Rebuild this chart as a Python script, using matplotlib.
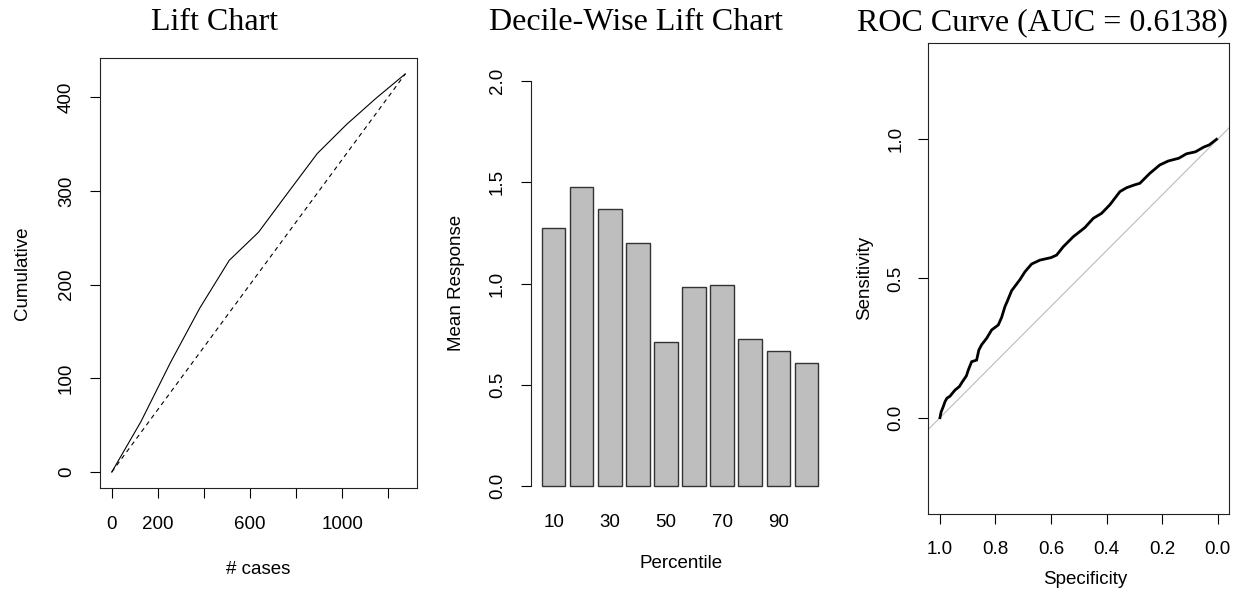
import matplotlib
matplotlib.use("Agg")
import matplotlib.pyplot as plt
import numpy as np

# ---------------- data ----------------
# Lift chart (cumulative actual responses at decile boundaries)
lift_cases = [0, 127, 255, 382, 510, 637, 764, 892, 1019, 1147, 1274]
lift_cum = [0, 54, 117, 175, 226, 256, 298, 340, 371, 399, 425]
baseline_cases = [0, 1274]
baseline_cum = [0, 425]
lift_xticks = [0, 200, 400, 600, 800, 1000, 1200]
lift_xticklabels = ["0", "200", "", "600", "", "1000", ""]
lift_yticks = [0, 100, 200, 300, 400]

# Decile-wise lift chart
percentiles = [10, 20, 30, 40, 50, 60, 70, 80, 90, 100]
mean_response = [1.276, 1.479, 1.370, 1.198, 0.709, 0.985, 0.995, 0.724, 0.665, 0.609]
decile_yticks = [0.0, 0.5, 1.0, 1.5, 2.0]

# ROC curve
roc_spec = [1.0, 0.996, 0.988, 0.982, 0.975, 0.964, 0.946, 0.930, 0.920, 0.905,
            0.898, 0.886, 0.868, 0.860, 0.850, 0.832, 0.814, 0.790, 0.778, 0.766,
            0.758, 0.742, 0.712, 0.694, 0.670, 0.640, 0.600, 0.580, 0.556, 0.520,
            0.478, 0.448, 0.418, 0.388, 0.352, 0.328, 0.300, 0.280, 0.244, 0.208,
            0.178, 0.140, 0.112, 0.080, 0.050, 0.030, 0.004]
roc_sens = [0.000, 0.020, 0.040, 0.057, 0.070, 0.077, 0.099, 0.112, 0.128, 0.150,
            0.171, 0.201, 0.207, 0.243, 0.262, 0.285, 0.315, 0.333, 0.360, 0.399,
            0.417, 0.456, 0.496, 0.524, 0.552, 0.566, 0.575, 0.584, 0.614, 0.650,
            0.683, 0.716, 0.734, 0.765, 0.812, 0.826, 0.836, 0.842, 0.878, 0.908,
            0.922, 0.932, 0.948, 0.955, 0.972, 0.980, 1.000]
roc_ticks_x = [1.0, 0.8, 0.6, 0.4, 0.2, 0.0]
roc_ticks_y = [0.0, 0.5, 1.0]
auc = 0.6138

# ---------------- layout ----------------
W, H = 1241, 594
DPI = 100
fig = plt.figure(figsize=(W / DPI, H / DPI), dpi=DPI)

SANS = "Liberation Sans"
SERIF = "Liberation Serif"
TICK_FS = 13.5
LABEL_FS = 13.5
TITLE_FS = 23


def ax_px(left, top, right, bottom):
    return fig.add_axes([left / W, 1 - bottom / H, (right - left) / W, (bottom - top) / H])


def fx(x):
    return x / W


def fy(y):
    return 1 - y / H


def style(ax, xpad, ypad):
    ax.tick_params(direction="out", length=7.5, width=0.8, labelsize=TICK_FS, colors="black")
    ax.tick_params(axis="x", pad=xpad)
    ax.tick_params(axis="y", pad=ypad)
    for lbl in ax.get_xticklabels() + ax.get_yticklabels():
        lbl.set_fontfamily(SANS)
    for lbl in ax.get_yticklabels():
        lbl.set_rotation(90)
        lbl.set_va("center")
    for s in ax.spines.values():
        s.set_linewidth(0.8)
        s.set_color("#222222")


# ---- Lift chart ----
ax1 = ax_px(100, 58, 417, 488)
ax1.plot(lift_cases, lift_cum, color="black", lw=0.8)
ax1.plot(baseline_cases, baseline_cum, color="black", lw=0.8, linestyle=(0, (4, 3.5)))
ax1.set_xlim(-51, 1325)
ax1.set_ylim(-17, 442)
ax1.set_xticks(lift_xticks)
ax1.set_xticklabels(lift_xticklabels)
ax1.set_yticks(lift_yticks)
ax1.set_yticklabels([str(v) for v in lift_yticks])
style(ax1, 13, 10.5)
fig.text(fx(215), fy(23), "Lift Chart", ha="center", va="center", fontsize=TITLE_FS, family=SERIF)
fig.text(fx(258), fy(570), "# cases", ha="center", va="center", fontsize=LABEL_FS, family=SANS)
fig.text(fx(22), fy(273), "Cumulative", ha="center", va="center", rotation=90, fontsize=LABEL_FS, family=SANS)

# ---- Decile-wise lift chart ----
ax2 = ax_px(531, 58, 829, 488)
xpos = 0.7 + 1.2 * np.arange(len(percentiles))
ax2.bar(xpos, mean_response, width=1.0, color="#BEBEBE", edgecolor="#333333", linewidth=1.0)
ax2.set_xlim(-0.272, 12.472)
ax2.set_ylim(-0.01, 2.114)
ax2.set_xticks(xpos)
ax2.set_xticklabels([str(p) if i % 2 == 0 else "" for i, p in enumerate(percentiles)])
ax2.set_yticks(decile_yticks)
ax2.set_yticklabels([f"{v:.1f}" for v in decile_yticks])
for s in ["top", "right", "bottom"]:
    ax2.spines[s].set_visible(False)
style(ax2, 10.5, 10.5)
ax2.spines["left"].set_bounds(0, 2.0)
ax2.tick_params(axis="x", length=0, pad=19)
fig.text(fx(636), fy(23), "Decile-Wise Lift Chart", ha="center", va="center", fontsize=TITLE_FS, family=SERIF)
fig.text(fx(681), fy(563), "Percentile", ha="center", va="center", fontsize=LABEL_FS, family=SANS)
fig.text(fx(457), fy(283), "Mean Response", ha="center", va="center", rotation=90, fontsize=LABEL_FS, family=SANS)

# ---- ROC curve ----
ax3 = ax_px(928.3, 42.7, 1229.3, 514)
ax3.plot([1.1, -0.1], [-0.1, 1.1], color="#BBBBBB", lw=0.8)
ax3.plot(roc_spec, roc_sens, color="black", lw=2.0, solid_joinstyle="miter")
ax3.set_xlim(1.042, -0.042)
ax3.set_ylim(-0.346, 1.347)
ax3.set_xticks(roc_ticks_x)
ax3.set_xticklabels([f"{v:.1f}" for v in roc_ticks_x])
ax3.set_yticks(roc_ticks_y)
ax3.set_yticklabels([f"{v:.1f}" for v in roc_ticks_y])
style(ax3, 12, 9.5)
fig.text(fx(1042), fy(23), f"ROC Curve (AUC = {auc:.4f})", ha="center", va="center", fontsize=TITLE_FS, family=SERIF)
fig.text(fx(1085), fy(580), "Specificity", ha="center", va="center", fontsize=LABEL_FS, family=SANS)
fig.text(fx(865), fy(278), "Sensitivity", ha="center", va="center", rotation=90, fontsize=LABEL_FS, family=SANS)

fig.savefig("out.png", dpi=DPI)
